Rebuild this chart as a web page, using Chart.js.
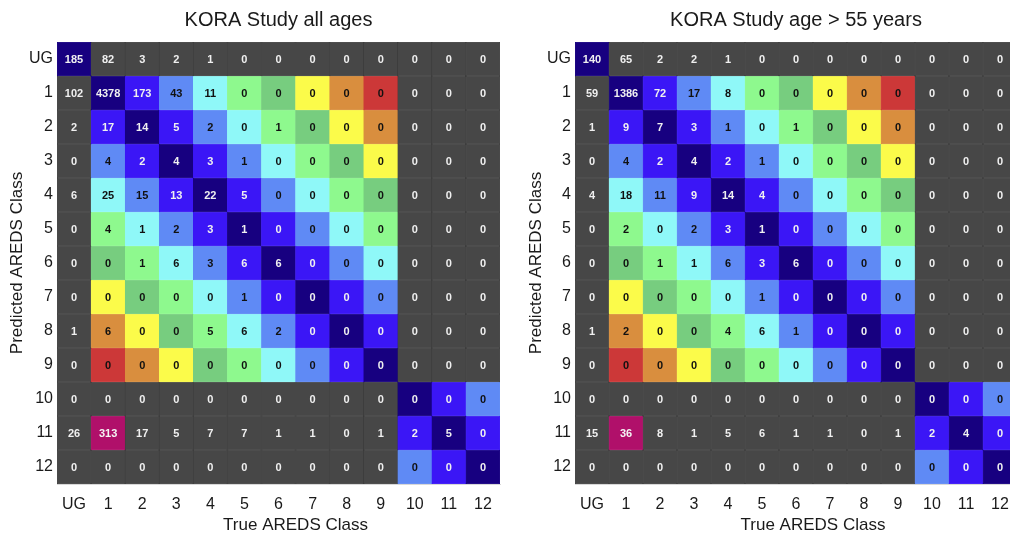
<!DOCTYPE html>
<html lang="en">
<head>
    <meta charset="UTF-8">
    <title>KORA confusion matrices</title>
    <style>
        html, body { margin: 0; padding: 0; background: #fff; overflow: hidden; }
        .wrap { position: absolute; top: 0; }
    </style>
</head>
<body>
    <div class="wrap" style="left:0"><canvas id="chartAll" width="505" height="536"></canvas></div>
    <div class="wrap" style="left:505px"><canvas id="chartOld" width="515" height="536"></canvas></div>

    <script src="https://cdn.jsdelivr.net/npm/chart.js"></script>
    <script>
        // class labels (rows = predicted, columns = true)
        const rowLabels = ['UG', '1', '2', '3', '4', '5', '6', '7', '8', '9', '10', '11', '12'];
        const colLabels = ['UG', '1', '2', '3', '4', '5', '6', '7', '8', '9', '10', '11', '12'];

        // KORA Study all ages
        const allAges = [
            [185, 82, 3, 2, 1, 0, 0, 0, 0, 0, 0, 0, 0],
            [102, 4378, 173, 43, 11, 0, 0, 0, 0, 0, 0, 0, 0],
            [2, 17, 14, 5, 2, 0, 1, 0, 0, 0, 0, 0, 0],
            [0, 4, 2, 4, 3, 1, 0, 0, 0, 0, 0, 0, 0],
            [6, 25, 15, 13, 22, 5, 0, 0, 0, 0, 0, 0, 0],
            [0, 4, 1, 2, 3, 1, 0, 0, 0, 0, 0, 0, 0],
            [0, 0, 1, 6, 3, 6, 6, 0, 0, 0, 0, 0, 0],
            [0, 0, 0, 0, 0, 1, 0, 0, 0, 0, 0, 0, 0],
            [1, 6, 0, 0, 5, 6, 2, 0, 0, 0, 0, 0, 0],
            [0, 0, 0, 0, 0, 0, 0, 0, 0, 0, 0, 0, 0],
            [0, 0, 0, 0, 0, 0, 0, 0, 0, 0, 0, 0, 0],
            [26, 313, 17, 5, 7, 7, 1, 1, 0, 1, 2, 5, 0],
            [0, 0, 0, 0, 0, 0, 0, 0, 0, 0, 0, 0, 0]
        ];

        // KORA Study age > 55 years
        const over55 = [
            [140, 65, 2, 2, 1, 0, 0, 0, 0, 0, 0, 0, 0],
            [59, 1386, 72, 17, 8, 0, 0, 0, 0, 0, 0, 0, 0],
            [1, 9, 7, 3, 1, 0, 1, 0, 0, 0, 0, 0, 0],
            [0, 4, 2, 4, 2, 1, 0, 0, 0, 0, 0, 0, 0],
            [4, 18, 11, 9, 14, 4, 0, 0, 0, 0, 0, 0, 0],
            [0, 2, 0, 2, 3, 1, 0, 0, 0, 0, 0, 0, 0],
            [0, 0, 1, 1, 6, 3, 6, 0, 0, 0, 0, 0, 0],
            [0, 0, 0, 0, 0, 1, 0, 0, 0, 0, 0, 0, 0],
            [1, 2, 0, 0, 4, 6, 1, 0, 0, 0, 0, 0, 0],
            [0, 0, 0, 0, 0, 0, 0, 0, 0, 0, 0, 0, 0],
            [0, 0, 0, 0, 0, 0, 0, 0, 0, 0, 0, 0, 0],
            [15, 36, 8, 1, 5, 6, 1, 1, 0, 1, 2, 4, 0],
            [0, 0, 0, 0, 0, 0, 0, 0, 0, 0, 0, 0, 0]
        ];

        const FONT = "'Liberation Sans', Arial, sans-serif";
        // colour by distance from the diagonal
        const ramp = ['#170080', '#3b16f6', '#5f8af5', '#8ff8f8', '#8ef98e', '#77cd7f', '#fbfb4a', '#d98e3e', '#cc3838'];
        const gray = '#474747';
        const magenta = '#b0106a';

        function rampIndex(r, c) {
            if (r === 0 && c === 0) return 0;
            if (r >= 1 && r <= 9 && c >= 1 && c <= 9) return Math.abs(r - c);
            if (r >= 10 && c >= 10) return Math.abs(r - c);
            return -1;
        }
        function cellColor(r, c) {
            if (r === 11 && c === 1) return magenta;
            const i = rampIndex(r, c);
            return i < 0 ? gray : ramp[i];
        }
        function textColor(r, c) {
            if (r === 11 && c === 1) return '#f4f4f4';
            const i = rampIndex(r, c);
            return i >= 2 ? '#111' : '#f0f0f0';
        }

        // counts in the middle of each cell + x axis title (sits half a cell right of centre)
        const cellText = {
            id: 'cellText',
            afterDatasetsDraw(chart, args, opts) {
                const { ctx, chartArea } = chart;
                ctx.save();
                ctx.font = 'bold 11px ' + FONT;
                ctx.textAlign = 'center';
                ctx.textBaseline = 'middle';
                chart.data.datasets.forEach((ds, r) => {
                    chart.getDatasetMeta(r).data.forEach((bar, c) => {
                        ctx.fillStyle = textColor(r, c);
                        ctx.fillText(String(opts.counts[r][c]), bar.x, (bar.y + bar.base) / 2 + 1);
                    });
                });
                const cellW = (chartArea.right - chartArea.left) / colLabels.length;
                ctx.font = '17px ' + FONT;
                ctx.fillStyle = '#1a1a1a';
                ctx.fillText('True AREDS Class', (chartArea.left + chartArea.right) / 2 + cellW / 2, 525);
                ctx.restore();
            }
        };

        function makeChart(id, title, counts, yWidth, yTitlePad, padRight) {
            const datasets = rowLabels.map((lab, r) => ({
                label: lab,
                data: colLabels.map(() => [r - 0.5, r + 0.5]),
                backgroundColor: colLabels.map((_, c) => cellColor(r, c)),
                borderColor: colLabels.map((_, c) => cellColor(r, c) === gray ? '#3a3a3a' : cellColor(r, c)),
                borderWidth: 0.5,
                borderSkipped: false,
                grouped: false,
                barPercentage: 1,
                categoryPercentage: 1
            }));
            return new Chart(document.getElementById(id), {
                type: 'bar',
                data: { labels: colLabels, datasets: datasets },
                plugins: [cellText],
                options: {
                    responsive: false,
                    animation: false,
                    events: [],
                    layout: { padding: { left: 0, right: padRight, top: 0, bottom: 0 } },
                    plugins: {
                        legend: { display: false },
                        tooltip: { enabled: false },
                        title: {
                            display: true,
                            text: title,
                            fullSize: false,
                            color: '#1a1a1a',
                            font: { family: FONT, size: 20, weight: 'normal' },
                            padding: { top: 8, bottom: 10 }
                        },
                        cellText: { counts: counts }
                    },
                    scales: {
                        x: {
                            grid: { display: false, drawTicks: false },
                            border: { display: true, color: '#d8d8d8', width: 1 },
                            ticks: {
                                color: '#1a1a1a', font: { family: FONT, size: 16 },
                                padding: 11, autoSkip: false, maxRotation: 0
                            },
                            afterFit: (s) => { s.height = 52; }
                        },
                        y: {
                            type: 'linear',
                            reverse: true,
                            min: -0.5,
                            max: 12.5,
                            grid: { display: false, drawTicks: false },
                            border: { display: true, color: '#d8d8d8', width: 1 },
                            afterBuildTicks: (s) => { s.ticks = rowLabels.map((_, i) => ({ value: i })); },
                            ticks: {
                                color: '#1a1a1a', font: { family: FONT, size: 16 }, padding: 4,
                                callback: (v) => rowLabels[v]
                            },
                            title: {
                                display: true, text: 'Predicted AREDS Class', color: '#1a1a1a',
                                font: { family: FONT, size: 17 }, padding: { top: yTitlePad, bottom: 0 }
                            },
                            afterFit: (s) => { s.width = yWidth; }
                        }
                    }
                }
            });
        }

        makeChart('chartAll', 'KORA Study all ages', allAges, 57, 7, 5);
        makeChart('chartOld', 'KORA Study age > 55 years', over55, 70, 21, 3);
    </script>
</body>
</html>
